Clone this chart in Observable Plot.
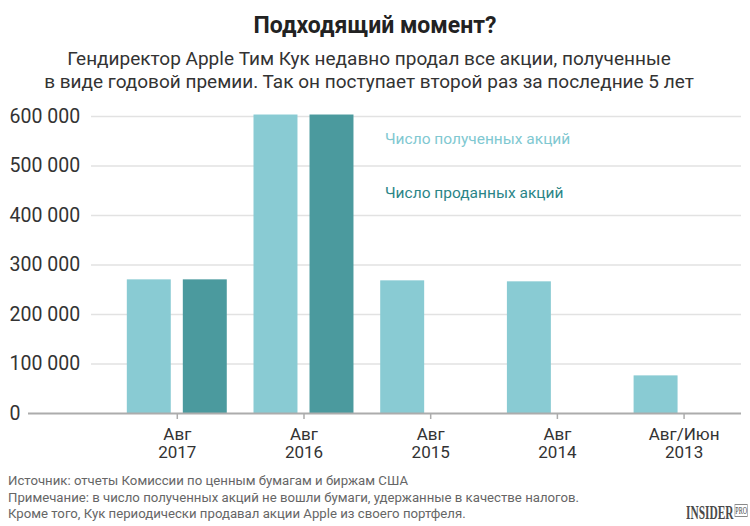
<!DOCTYPE html>
<html><head><meta charset="utf-8">
<script src="https://cdn.jsdelivr.net/npm/d3@7"></script>
<script src="https://cdn.jsdelivr.net/npm/@observablehq/plot@0.6"></script>
<style>
body{margin:0;background:#fff;font-family:Roboto,sans-serif;}
#wrap{position:relative;width:750px;height:526px;overflow:hidden;background:#fff;}
#title{position:absolute;top:12px;left:0;width:750px;text-align:center;font-weight:bold;font-size:23px;color:#222;line-height:28px;}
#sub{position:absolute;top:47px;left:-6px;width:750px;text-align:center;font-size:19px;color:#333;line-height:23px;}
#chart{position:absolute;top:100px;left:0;}
.leg{position:absolute;left:385px;font-size:15.5px;line-height:20px;white-space:nowrap;}
#leg1{top:129px;color:#80c8d1;}
#leg2{top:183px;color:#2b8587;}
#foot{position:absolute;left:8px;top:473px;font-size:13.2px;line-height:16.5px;color:#666;white-space:nowrap;}
#logo{position:absolute;left:686px;top:503px;font-family:"Liberation Serif",serif;font-weight:bold;font-size:19px;color:#4a4a4a;line-height:19px;white-space:nowrap;transform:scaleX(0.6);transform-origin:0 0;}
#logo span{font-size:10px;font-weight:normal;border:1px solid #888;padding:0;vertical-align:5px;margin-left:2px;line-height:10px;}
</style></head>
<body><div id="wrap">
<div id="title">Подходящий момент?</div>
<div id="sub">Гендиректор Apple Тим Кук недавно продал все акции, полученные<br>в виде годовой премии. Так он поступает второй раз за последние 5 лет</div>
<div id="chart"></div>
<div class="leg" id="leg1">Число полученных акций</div>
<div class="leg" id="leg2">Число проданных акций</div>
<div id="foot">Источник: отчеты Комиссии по ценным бумагам и биржам США<br>Примечание: в число полученных акций не вошли бумаги, удержанные в качестве налогов.<br>Кроме того, Кук периодически продавал акции Apple из своего портфеля.</div>
<div id="logo">INSIDER<span>PRO</span></div>
</div>
<script>
const months = ["Авг", "Авг", "Авг", "Авг", "Авг/Июн"];
const years = ["2017", "2016", "2015", "2014", "2013"];
const received = [270000, 603000, 268000, 266000, 76000];
const sold = [270000, 603000, 0, 0, 0];
const yTicks = [0, 100000, 200000, 300000, 400000, 500000, 600000];

const categories = months.map((m, i) => m + "\n" + years[i]);
const rows = categories.map((c, i) => ({cat: c, received: received[i], sold: sold[i]}));
const fmt = d => d3.format(",")(d).replace(/,/g, " ");

const chart = Plot.plot({
  width: 750,
  height: 372,
  marginLeft: 28,
  marginRight: 9,
  marginTop: 16,
  marginBottom: 59,
  style: {fontFamily: "Roboto, sans-serif", color: "#333", background: "transparent", overflow: "visible"},
  x: {type: "band", domain: categories, paddingInner: 0.211, paddingOuter: 0.4193, align: 0.93, round: false, axis: null, label: null},
  y: {domain: [0, 600000], axis: null},
  marks: [
    Plot.ruleY(yTicks.filter(d => d > 0), {y: d => d, stroke: "#e2e2e2", strokeWidth: 1.5, insetLeft: 63}),
    Plot.barY(rows, {x: "cat", y: "received", fill: "#89cbd3", insetRight: 56}),
    Plot.barY(rows.filter(d => d.sold > 0), {x: "cat", y: "sold", fill: "#4b9a9e", insetLeft: 56}),
    Plot.ruleY([0], {stroke: "#acacac", strokeWidth: 2}),
    Plot.axisX({tickSize: 6, tickPadding: 7, stroke: "#acacac", strokeWidth: 1.5, fontSize: 17, lineHeight: 1.1, tickFormat: d => d, label: null}),
    Plot.text(yTicks, {y: d => d, text: fmt, frameAnchor: "left", textAnchor: "start", dx: -19, fontSize: 19.5, fill: "#333"})
  ]
});
document.getElementById("chart").append(chart);
</script>
</body></html>
